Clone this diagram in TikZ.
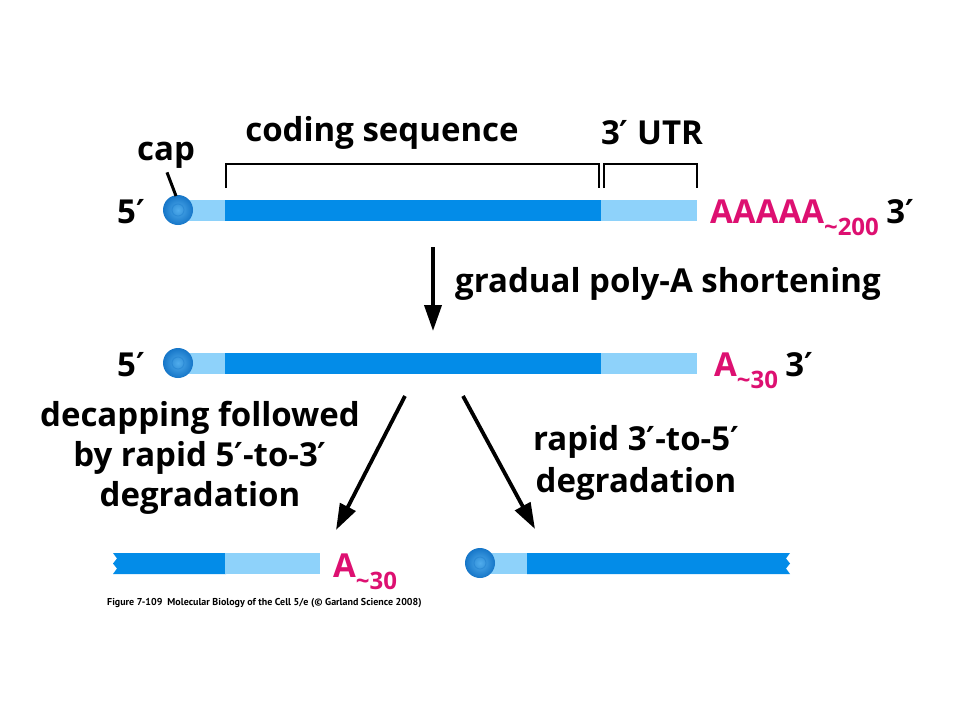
\documentclass[tikz,border=0pt]{standalone}
\usepackage{fontspec}
\setmainfont{Open Sans}
\newfontfamily\primefont{DejaVu Sans}
\newfontfamily\captionfont{PT Sans}
\usetikzlibrary{arrows.meta}
\definecolor{codingblue}{RGB}{3,140,232}
\definecolor{utrblue}{RGB}{142,210,250}
\definecolor{polyamagenta}{RGB}{221,16,113}
\definecolor{capinner}{RGB}{80,172,236}
\definecolor{capouter}{RGB}{22,118,200}
\newcommand{\tailsub}[1]{\raisebox{-12pt}{\fontsize{24}{24}\selectfont\textasciitilde#1}}
\newcommand{\prm}{{\primefont\bfseries ′}}

\begin{document}
\begin{tikzpicture}[x=1pt,y=-1pt,
  lbl/.style={font=\fontsize{33}{40}\selectfont\bfseries,inner sep=0pt},
  tail/.style={lbl,text=polyamagenta,anchor=base west},
  prime/.style={lbl,anchor=base west},
  bigarrow/.style={line width=3.8pt,-{Triangle[length=26pt,width=17pt]}},
  bracket/.style={line width=2.5pt},
  capball/.style={inner color=capinner,outer color=capouter}]
\useasboundingbox (0,0) rectangle (960,720);
\fill[white] (0,0) rectangle (960,720);
% full length mRNA, before and after shortening
\foreach \y/\n in {210/top,363/mid}{
  \fill[utrblue] (178,\y-10.5) rectangle (226,\y+10.5);
  \fill[codingblue] (225,\y-10.5) rectangle (602,\y+10.5);
  \fill[utrblue] (601,\y-10.5) rectangle (697,\y+10.5);
  \shade[capball] (178,\y) circle (15);
  \draw[capouter,opacity=.35,line width=1pt] (178,\y) circle (6);
  \node[prime] (five\n) at (117,\y+13) {5\prm};
}
\node[lbl] (caplbl) at (166,155) {cap};
\coordinate (captick) at (176,196);
\draw[line width=3pt] (caplbl.south) ++(1,4) -- (captick);
\draw[bracket] (226,188) |- (599,164) -- (599,188);
\draw[bracket] (604,188) |- (697,164) -- (697,188);
\node[lbl] (coding) at (382,133) {coding sequence};
\node[lbl] (utr) at (652,133) {3\prm\ UTR};
\node[tail] (longtail) at (710,223) {AAAAA\tailsub{200}};
\node[prime] (threetop) at (longtail.base east) [xshift=7pt] {3\prm};
\node[tail] (midtail) at (714,376) {A\tailsub{30}};
\node[prime] (threemid) at (midtail.base east) [xshift=7pt] {3\prm};
% shortening
\coordinate (shortfrom) at (433,247);
\coordinate (shortto) at (433,331);
\draw[bigarrow] (shortfrom) -- (shortto);
\node[lbl,anchor=west] (shortening) at (455,284) {gradual poly-A shortening};
% two ways of decay
\coordinate (decapfrom) at (405,396);
\coordinate (decapto) at (336,530);
\coordinate (exofrom) at (463,396);
\coordinate (exoto) at (535,529);
\draw[bigarrow] (decapfrom) -- (decapto);
\draw[bigarrow] (exofrom) -- (exoto);
\node[lbl,align=center] (decapping) at (200,458) {decapping followed\\by rapid 5\prm-to-3\prm\\degradation};
\node[lbl,align=center] (threetofive) at (636,463) {rapid 3\prm-to-5\prm\\[2pt]degradation};
% products
\fill[codingblue] (226,553) -- (113,553) -- (117,558.5) -- (113,563.5) -- (117,568.5) -- (113,574) -- (226,574) -- cycle;
\fill[utrblue] (225,553) rectangle (320,574);
\node[tail] (shorttail) at (333,577) {A\tailsub{30}};
\fill[utrblue] (480,553) rectangle (528,574);
\fill[codingblue] (527,553) -- (790,553) -- (786,558.5) -- (790,563.5) -- (786,568.5) -- (790,574) -- (527,574) -- cycle;
\shade[capball] (480,563) circle (15);
\draw[capouter,opacity=.35,line width=1pt] (480,563) circle (6);
\node[font=\captionfont\fontsize{10}{12}\selectfont\bfseries,anchor=west,inner sep=0pt] (caption) at (107,603)
  {Figure 7-109\enspace Molecular Biology of the Cell 5/e (© Garland Science 2008)};
\end{tikzpicture}
\end{document}
